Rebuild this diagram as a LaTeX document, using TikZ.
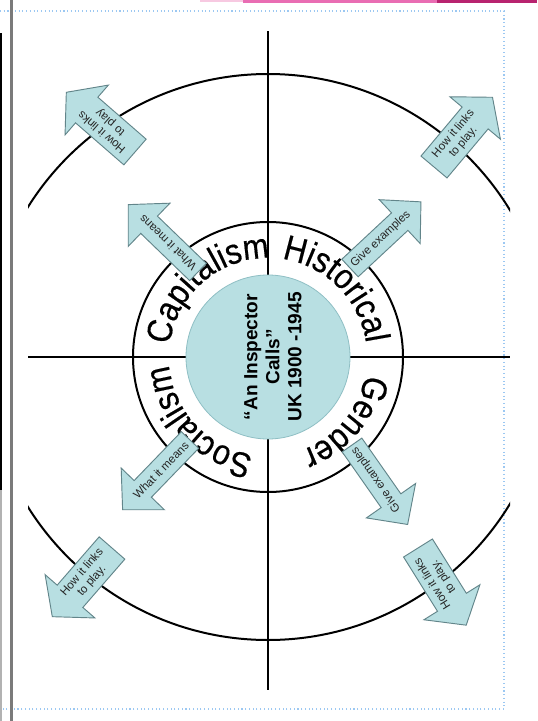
\documentclass[tikz,border=0pt]{standalone}
\usepackage{fontspec}
\setmainfont{Liberation Sans}
\newfontfamily\wordfont[FakeStretch=0.88, FakeBold=0.4]{Liberation Sans}
\usetikzlibrary{decorations.text}
\definecolor{boxfill}{HTML}{B8DFE2}
\definecolor{boxline}{HTML}{62858A}
\definecolor{hubline}{HTML}{8FBFC4}
\definecolor{framedot}{HTML}{9CC8F2}
\definecolor{pinkbar}{HTML}{E96DB3}
\definecolor{magentabar}{HTML}{B8236F}
\definecolor{pinkfaint}{HTML}{F7C9E1}
\definecolor{sidegray}{HTML}{7A7A7A}
\newcommand{\bigword}{\wordfont\fontsize{26.5}{30}\selectfont}
\newcommand{\setinner}{\def\aLen{97}\def\aSw{12}\def\aHw{30}\def\aHl{29}\def\aTx{42}}
\newcommand{\setouter}{\def\aLen{91}\def\aSw{17}\def\aHw{33}\def\aHl{27}\def\aTx{38}}
\newcommand{\blkarrow}[6]{%
  \begin{scope}[shift={#2}, rotate=#3]
    \draw[arrowbox] (0,-\aSw) -- ({\aLen-\aHl},-\aSw) -- ({\aLen-\aHl},-\aHw) -- (\aLen,0)
      -- ({\aLen-\aHl},\aHw) -- ({\aLen-\aHl},\aSw) -- (0,\aSw) -- cycle;
    \node[#4, transform shape, rotate=#5] (#1) at (\aTx,0) {#6};
  \end{scope}}
\begin{document}
\begin{tikzpicture}[x=0.75pt, y=0.75pt,
  ring/.style={black, line width=1.5pt},
  arrowbox/.style={fill=boxfill, draw=boxline, line width=0.7pt, line join=miter},
  intext/.style={font=\fontsize{8.7}{9.8}\selectfont, inner sep=0pt, align=center, text=black!85},
  outtext/.style={font=\fontsize{8.7}{9.6}\selectfont, inner sep=0pt, align=center, text=black!85},
  hub/.style={circle, fill=boxfill, draw=hubline, line width=0.6pt, minimum size=123pt, inner sep=0pt},
  title/.style={font=\fontsize{14.3}{16.5}\selectfont\bfseries, align=center, rotate=90, inner sep=0pt},
  bigtext/.style={decorate, decoration={text along path, text align=center, text={#1}}}
]
\useasboundingbox (0,0) rectangle (537,-721);
\fill[white] (0,0) rectangle (537,-721);
% page decoration
\fill[pinkfaint] (200,0) rectangle (243,-2);
\fill[pinkbar] (243,0) rectangle (437,-2.5);
\fill[magentabar] (437,0) rectangle (537,-2.5);
\draw[framedot, dotted, line width=0.8pt] (0,-11) -- (504,-11) -- (504,-709) -- (0,-709);
\draw[sidegray, line width=1.6pt] (11.5,0) -- (11.5,-721);
\draw[black, line width=1.5pt] (0.8,-33) -- (0.8,-490);
\draw[black!30, line width=1pt] (1,-490) -- (1,-721);

% rings and cross
\coordinate (c) at (268,-357);
\coordinate (vt) at (268,-31);
\coordinate (vb) at (268,-690);
\coordinate (hl) at (28,-357);
\coordinate (hr) at (510,-357);
\begin{scope}
  \clip (28,-20) rectangle (510,-700);
  \draw[ring] (c) circle[radius=283];
\end{scope}
\draw[ring] (c) circle[radius=135];
\draw[ring] (vt) -- (vb);
\draw[ring] (hl) -- (hr);
\node[hub] (hubc) at (c) {};
\node[title] (titletext) at (273,-357) {“An Inspector\\Calls”\\UK 1900 -1945};

% curved words
\path[bigtext={|\bigword|Capitalism}, shift={(268,-357)}] (206:99) arc[start angle=206, end angle=56, radius=99];
\path[bigtext={|\bigword|Historical}, shift={(268,-357)}] (120:99) arc[start angle=120, end angle=-30, radius=99];
\path[bigtext={|\bigword|Gender}, shift={(268,-357)}] (35:99) arc[start angle=35, end angle=-115, radius=99];
\path[bigtext={|\bigword|Socialism}, shift={(268,-357)}] (-62:99) arc[start angle=-62, end angle=-212, radius=99];

% inner arrows
\setinner
\blkarrow{iul}{(198,-272)}{136}{intext}{0}{What it means}
\blkarrow{iur}{(350,-268)}{43}{intext}{0}{Give examples}
\blkarrow{ill}{(190,-440)}{226}{intext}{180}{What it means}
\blkarrow{ilr}{(352,-445)}{305}{intext}{180}{Give examples}
% outer arrows
\setouter
\blkarrow{oul}{(135,-152)}{139}{outtext}{0}{How it links\\to play}
\blkarrow{our}{(434,-167)}{50}{outtext}{0}{How it links\\to play.}
\blkarrow{odl}{(112,-548)}{229}{outtext}{180}{How it links\\to play.}
\blkarrow{odr}{(418,-548)}{302}{outtext}{180}{How it links\\to play.}
\end{tikzpicture}
\end{document}
